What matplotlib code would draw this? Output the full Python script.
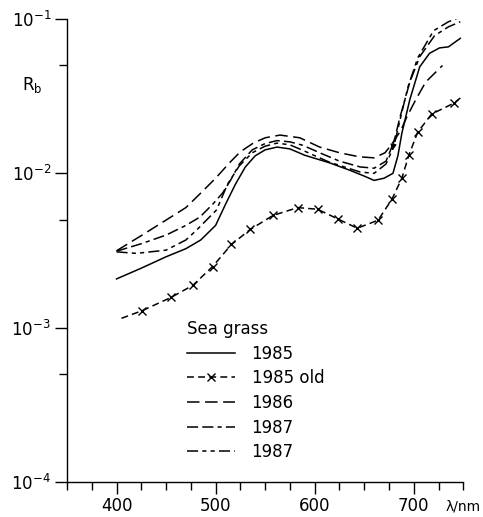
import matplotlib
matplotlib.use("Agg")
import matplotlib.pyplot as plt
from matplotlib.ticker import FixedLocator, NullFormatter

plt.rcParams['font.family'] = ['DejaVu Sans']
plt.rcParams['lines.scale_dashes'] = False
plt.rcParams['mathtext.fontset'] = 'dejavusans'

# ── data (wavelength nm, reflectance R_b) ──────────────────────────────
wl_1985 = [400, 425, 450, 470, 485, 500, 510, 520, 530, 540, 550, 562, 575,
           590, 615, 635, 650, 660, 670, 679, 684, 688, 696, 706, 716, 726,
           735, 747]
rb_1985 = [2.07e-3, 2.43e-3, 2.88e-3, 3.25e-3, 3.7e-3, 4.6e-3, 6.3e-3,
           8.5e-3, 1.1e-2, 1.3e-2, 1.42e-2, 1.48e-2, 1.44e-2, 1.31e-2,
           1.17e-2, 1.05e-2, 9.6e-3, 9.0e-3, 9.3e-3, 1.0e-2, 1.3e-2,
           1.82e-2, 3.0e-2, 4.9e-2, 6.0e-2, 6.5e-2, 6.6e-2, 7.5e-2]

wl_1985_old = [405, 426, 455, 477, 497, 516, 535, 558, 583, 603, 624, 643,
               664, 678, 688, 695, 704, 718, 741, 747]
rb_1985_old = [1.15e-3, 1.29e-3, 1.57e-3, 1.88e-3, 2.49e-3, 3.46e-3,
               4.33e-3, 5.34e-3, 6.0e-3, 5.85e-3, 5.04e-3, 4.41e-3, 4.97e-3,
               6.8e-3, 9.3e-3, 1.31e-2, 1.85e-2, 2.42e-2, 2.86e-2, 3.08e-2]

wl_1986 = [400, 425, 450, 470, 485, 500, 514, 525, 538, 550, 565, 585, 605,
           625, 645, 660, 671, 678, 687, 693, 702, 712, 729]
rb_1986 = [3.15e-3, 3.95e-3, 4.98e-3, 6.0e-3, 7.45e-3, 9.3e-3, 1.17e-2,
           1.38e-2, 1.57e-2, 1.7e-2, 1.77e-2, 1.7e-2, 1.48e-2, 1.36e-2,
           1.28e-2, 1.26e-2, 1.36e-2, 1.55e-2, 1.9e-2, 2.32e-2, 3.0e-2,
           3.9e-2, 5.0e-2]

wl_1987a = [400, 425, 450, 470, 484, 497, 507, 515, 524, 537, 550, 562, 575,
            588, 605, 625, 646, 660, 672, 680, 686, 696, 706, 721, 735, 747]
rb_1987a = [3.13e-3, 3.5e-3, 3.98e-3, 4.6e-3, 5.2e-3, 6.3e-3, 7.45e-3,
            9.0e-3, 1.15e-2, 1.42e-2, 1.56e-2, 1.63e-2, 1.6e-2, 1.52e-2,
            1.36e-2, 1.2e-2, 1.1e-2, 1.08e-2, 1.2e-2, 1.6e-2, 2.3e-2,
            3.9e-2, 5.7e-2, 7.8e-2, 8.9e-2, 9.6e-2]

wl_1987b = [400, 420, 450, 470, 481, 501, 512, 524, 537, 550, 562, 575, 588,
            615, 646, 660, 672, 680, 686, 694, 704, 720, 735, 747]
rb_1987b = [3.1e-3, 3.03e-3, 3.18e-3, 3.7e-3, 4.3e-3, 5.8e-3, 8.5e-3,
            1.12e-2, 1.36e-2, 1.5e-2, 1.57e-2, 1.53e-2, 1.41e-2, 1.18e-2,
            1.02e-2, 1.0e-2, 1.15e-2, 1.5e-2, 2.2e-2, 3.6e-2, 5.6e-2,
            8.4e-2, 9.6e-2, 1.03e-1]

x_major = [400, 500, 600, 700]
x_minor = [350, 375, 425, 450, 475, 525, 550, 575, 625, 650, 675, 725, 750]
y_major = [1e-4, 1e-3, 1e-2, 1e-1]
y_minor = [5e-4, 5e-3, 5e-2]
y_labels = [r'$10^{-4}$', r'$10^{-3}$', r'$10^{-2}$', r'$10^{-1}$']

# ── figure ───────────────────────────────────────────────────────────────
fig = plt.figure(figsize=(4.83, 5.17), dpi=100)
ax = fig.add_axes([0.1387, 0.0677, 0.8205, 0.8955])

lw = 1.1
ax.plot(wl_1985, rb_1985, color='black', lw=lw, ls='-', label='1985')
ax.plot(wl_1985_old, rb_1985_old, color='black', lw=lw, ls=(0, (5, 3)),
        marker='x', markersize=6, markeredgewidth=1.0,
        markevery=list(range(1, len(wl_1985_old) - 1)), label='1985 old')
ax.plot(wl_1986, rb_1986, color='black', lw=lw, ls=(0, (9, 4)),
        label='1986')
ax.plot(wl_1987a, rb_1987a, color='black', lw=lw,
        ls=(0, (8, 3, 8, 3, 3, 3)), label='1987')
ax.plot(wl_1987b, rb_1987b, color='black', lw=lw,
        ls=(0, (8, 3, 3, 3, 3, 3)), label='1987')

# small arrowhead drawn on the 1987 curves in the original
ax.annotate('', xy=(678, 1.35e-2), xytext=(681, 1.75e-2),
            arrowprops=dict(arrowstyle='-|>', color='black', lw=0.8,
                            mutation_scale=9))

ax.set_yscale('log')
ax.set_xlim(350, 750)
ax.set_ylim(1e-4, 1e-1)

ax.spines['top'].set_visible(False)
ax.spines['right'].set_visible(False)
for s in ('left', 'bottom'):
    ax.spines[s].set_linewidth(1.0)

ax.xaxis.set_major_locator(FixedLocator(x_major))
ax.xaxis.set_minor_locator(FixedLocator(x_minor))
ax.yaxis.set_major_locator(FixedLocator(y_major))
ax.yaxis.set_minor_locator(FixedLocator(y_minor))
ax.yaxis.set_minor_formatter(NullFormatter())
ax.set_yticklabels(y_labels)
ax.tick_params(which='major', direction='out', length=8.5, width=1.0,
               labelsize=12)
ax.tick_params(which='minor', direction='out', length=5.5, width=1.0)
ax.tick_params(axis='x', which='major', pad=2)
ax.tick_params(axis='y', which='major', pad=3)

fig.text(22 / 483, 1 - 85 / 517, r'R$_\mathregular{b}$', fontsize=12,
         va='center', ha='left')
fig.text(481 / 483, 1 - 506 / 517, 'λ/nm', fontsize=10, va='center',
         ha='right')

leg = ax.legend(loc='upper left', bbox_to_anchor=(0.3016, 0.350),
                frameon=False, title='Sea grass', alignment='left',
                fontsize=12, title_fontsize=12, handlelength=2.9,
                handletextpad=1.0, labelspacing=0.4, borderpad=0,
                borderaxespad=0, numpoints=1, markerscale=1.0)

fig.savefig('out.png', dpi=100)
